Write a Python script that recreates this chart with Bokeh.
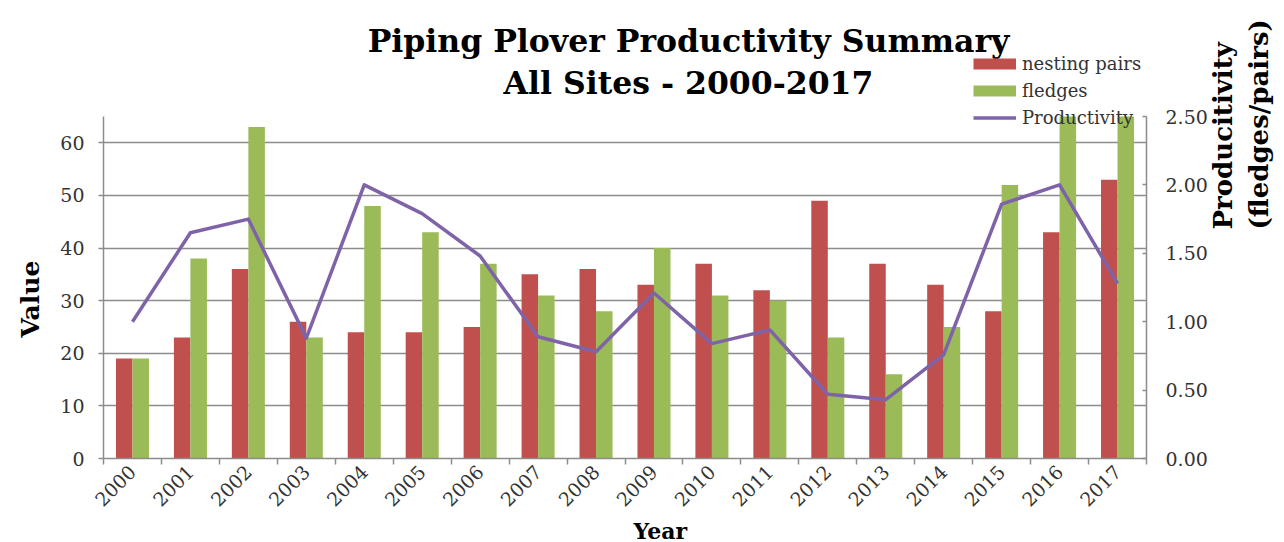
from bokeh.plotting import figure
from bokeh.models import (Range1d, LinearAxis, FixedTicker, NumeralTickFormatter,
                          Title, Label, Legend, LegendItem, ColumnDataSource)
from bokeh.embed import file_html
from bokeh.resources import INLINE
import math

years = [2000, 2001, 2002, 2003, 2004, 2005, 2006, 2007, 2008,
         2009, 2010, 2011, 2012, 2013, 2014, 2015, 2016, 2017]
nesting_pairs = [19, 23, 36, 26, 24, 24, 25, 35, 36, 33, 37, 32, 49, 37, 33, 28, 43, 53]
fledges = [19, 38, 63, 23, 48, 43, 37, 31, 28, 40, 31, 30, 23, 16, 25, 52, 86, 68]
productivity = [1.00, 1.65, 1.75, 0.88, 2.00, 1.79, 1.48, 0.89, 0.78, 1.21,
                0.84, 0.94, 0.47, 0.43, 0.76, 1.86, 2.00, 1.28]
left_ticks = [0, 10, 20, 30, 40, 50, 60]
right_ticks = [0.0, 0.5, 1.0, 1.5, 2.0, 2.5]
LEFT_MAX = 65
RIGHT_MAX = 2.5

RED = "#C0504D"
GREEN = "#9BBB59"
PURPLE = "#7F63A8"
GRID = "#8C8C8C"
FONT = "DejaVu Serif"

# frame reaches the top of the picture so the title and legend are not clipped;
# the data area (axes) occupies its lower DATA_H pixels
FRAME_W, FRAME_H, DATA_H = 1043, 458, 342
scale = FRAME_H / DATA_H

n = len(years)
xc = [i + 0.5 for i in range(n)]
src = ColumnDataSource(dict(
    xc=xc,
    xr=[x - 0.1425 for x in xc],
    xg=[x + 0.1425 for x in xc],
    pairs=[min(v, LEFT_MAX) for v in nesting_pairs],
    fledges=[min(v, LEFT_MAX) for v in fledges],
    prod=productivity))

p = figure(frame_width=FRAME_W, frame_height=FRAME_H, output_backend="svg",
           toolbar_location=None, title=None,
           x_range=Range1d(0, n), y_range=Range1d(0, LEFT_MAX * scale),
           min_border_left=100, min_border_right=133, min_border_top=0,
           min_border_bottom=76)
p.extra_y_ranges = {"prod": Range1d(0, RIGHT_MAX * scale)}
p.outline_line_color = None
p.background_fill_color = "white"
p.border_fill_color = "white"

p.vbar(x="xr", top="pairs", width=0.285, source=src, fill_color=RED, line_color=None)
p.vbar(x="xg", top="fledges", width=0.285, source=src, fill_color=GREEN, line_color=None)
p.line(x="xc", y="prod", source=src, y_range_name="prod", line_color=PURPLE,
       line_width=3.5, line_join="round")

# x axis
xa = p.xaxis[0]
xa.ticker = FixedTicker(ticks=xc, minor_ticks=list(range(n + 1)))
xa.major_label_overrides = {x: str(y) for x, y in zip(xc, years)}
xa.major_label_orientation = math.pi / 4
xa.major_tick_line_color = None
xa.major_tick_out = 0
xa.major_tick_in = 0
xa.minor_tick_line_color = GRID
xa.minor_tick_line_width = 1.5
xa.minor_tick_out = 6
xa.minor_tick_in = 0
xa.axis_line_color = GRID
xa.axis_line_width = 1.5
xa.major_label_standoff = 4
xa.major_label_text_font = FONT
xa.major_label_text_font_size = "19px"
xa.major_label_text_color = "#333333"

# left axis
ya = p.yaxis[0]
ya.ticker = FixedTicker(ticks=left_ticks)
ya.bounds = (0, LEFT_MAX)
ya.axis_line_color = GRID
ya.axis_line_width = 1.5
ya.major_tick_line_color = GRID
ya.major_tick_line_width = 1.5
ya.major_tick_out = 5
ya.major_tick_in = 0
ya.minor_tick_line_color = None
ya.major_label_standoff = 14
ya.major_label_text_font = FONT
ya.major_label_text_font_size = "19px"
ya.major_label_text_color = "#333333"

# right axis
ra = LinearAxis(y_range_name="prod", ticker=FixedTicker(ticks=right_ticks),
                formatter=NumeralTickFormatter(format="0.00"), bounds=(0, RIGHT_MAX))
ra.axis_line_color = GRID
ra.axis_line_width = 1.5
ra.major_tick_line_color = GRID
ra.major_tick_line_width = 1.5
ra.major_tick_in = 4
ra.major_tick_out = 0
ra.minor_tick_line_color = None
ra.major_label_standoff = 19
ra.major_label_text_font = FONT
ra.major_label_text_font_size = "19px"
ra.major_label_text_color = "#333333"
ra.axis_label = "Producitivity\n(fledges/pairs)"
ra.axis_label_orientation = math.pi / 2
ra.axis_label_text_font = FONT
ra.axis_label_text_font_style = "bold"
ra.axis_label_text_font_size = "26px"
ra.axis_label_text_color = "black"
ra.axis_label_standoff = 30
p.add_layout(ra, "right")

p.xgrid.grid_line_color = None
p.ygrid.grid_line_color = GRID
p.ygrid.grid_line_width = 1.5
p.ygrid.ticker = FixedTicker(ticks=left_ticks)

# axis titles placed with offsets
p.add_layout(Title(text="Value", align="left", offset=121, standoff=26,
                   text_font=FONT, text_font_style="bold", text_font_size="25px",
                   text_color="black"), "left")
p.add_layout(Title(text="Year", align="left", offset=530, standoff=0,
                   text_font=FONT, text_font_style="bold", text_font_size="22px",
                   text_color="black"), "below")

# chart titles (inside the tall frame)
for txt, yy in [("Piping Plover Productivity Summary", 418), ("All Sites - 2000-2017", 376)]:
    p.add_layout(Label(x=585, y=yy, x_units="screen", y_units="screen", text=txt,
                       text_align="center", text_baseline="middle",
                       text_font=FONT, text_font_style="bold",
                       text_font_size="31.5px", text_color="black"))

# legend (proxy renderers that draw nothing in the frame)
nan = float("nan")
r1 = p.line(x=[0], y=[nan], line_color=RED, line_width=11, line_cap="butt")
r2 = p.line(x=[0], y=[nan], line_color=GREEN, line_width=11, line_cap="butt")
r3 = p.line(x=[0], y=[nan], line_color=PURPLE, line_width=3.5, line_cap="butt")
legend = Legend(items=[LegendItem(label="nesting pairs", renderers=[r1]),
                       LegendItem(label="fledges", renderers=[r2]),
                       LegendItem(label="Productivity", renderers=[r3])],
                location=(870, 327), padding=0, margin=0, spacing=0,
                label_height=27, glyph_height=27, glyph_width=43, label_standoff=6,
                background_fill_alpha=0, border_line_color=None,
                label_text_font=FONT, label_text_font_size="18px",
                label_text_color="#333333")
p.add_layout(legend, "center")

open("out.html", "w").write(file_html(p, INLINE))
